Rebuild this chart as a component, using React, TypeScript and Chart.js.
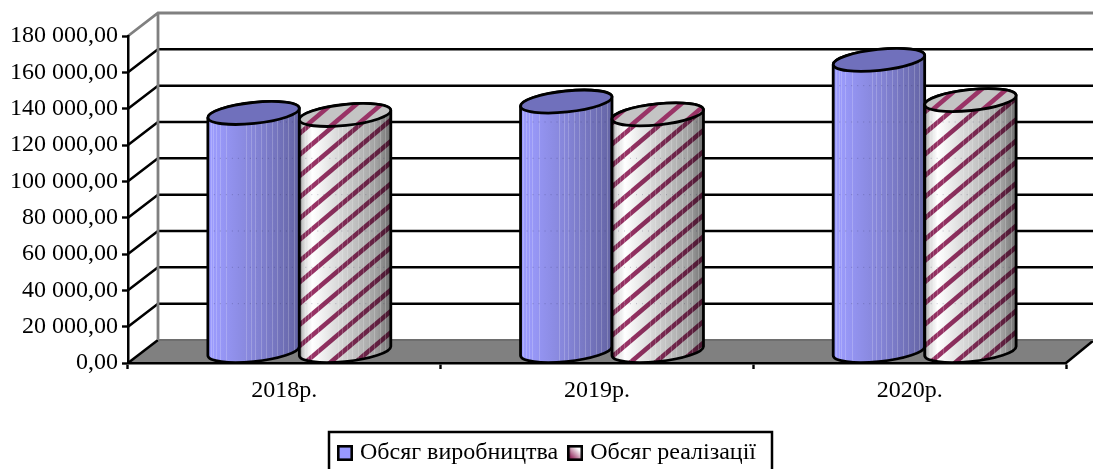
import React, { useEffect, useRef } from "react";
import { Chart, registerables } from "chart.js";

Chart.register(...registerables);

const years = ["2018р.", "2019р.", "2020р."];
const productionVolume = [131300, 137600, 160500];
const salesVolume = [130200, 130500, 138400];
const productionLabel = "Обсяг виробництва";
const salesLabel = "Обсяг реалізації";

const FONT = '"Liberation Serif", "Times New Roman", serif';
const FONT_SIZE = 24;

// Oblique offset of the 3D box: back wall relative to the front plane.
const DEPTH_X = 30;
const DEPTH_Y = -23;
const GREY = "#808080";

// Faint vertical banding on the cylinder sides, as fractions of their width.
const BANDS = [0.03, 0.06, 0.09, 0.13, 0.2, 0.42, 0.47, 0.52, 0.58, 0.64, 0.7, 0.76, 0.82, 0.88, 0.94];

const formatTick = (v: number) =>
  String(Math.round(v)).replace(/\B(?=(\d{3})+(?!\d))/g, " ") + ",00";

function cylinderGeometry(x: number, top: number, base: number, width: number) {
  const tilt = (6 * Math.PI) / 180;
  const ry = 10.5;
  const half = width / 2;
  // Radius chosen so the tilted ellipse's silhouette spans exactly the bar width.
  const rx = Math.sqrt(Math.max(half * half - (ry * Math.sin(tilt)) ** 2, 1)) / Math.cos(tilt);
  const tRight = Math.atan2(ry * Math.sin(tilt), rx * Math.cos(tilt));
  const tLeft = tRight + Math.PI;
  const cx = x + DEPTH_X / 2;
  const topY = top + DEPTH_Y / 2;
  const baseY = base + DEPTH_Y / 2;
  const pt = (t: number, cy: number) => ({
    x: cx + rx * Math.cos(t) * Math.cos(tilt) + ry * Math.sin(t) * Math.sin(tilt),
    y: cy - rx * Math.cos(t) * Math.sin(tilt) + ry * Math.sin(t) * Math.cos(tilt),
  });
  return { tilt, ry, rx, tRight, tLeft, cx, topY, baseY, half, pt };
}

function stripes(ctx: CanvasRenderingContext2D, left: number, right: number, top: number, bottom: number) {
  const period = 25;
  const rise = 0.85;
  const span = bottom - top;
  ctx.save();
  ctx.strokeStyle = "#993366";
  ctx.lineWidth = 4.6;
  const start = Math.floor((left - span / rise) / period) * period;
  for (let s = start; s < right + span / rise + period; s += period) {
    ctx.beginPath();
    ctx.moveTo(s, bottom);
    ctx.lineTo(s + span / rise, top);
    ctx.stroke();
  }
  ctx.restore();
}

function drawCylinder(
  ctx: CanvasRenderingContext2D,
  el: any,
  hatched: boolean,
  gridY: number[],
) {
  const g = cylinderGeometry(el.x, el.y, el.base, el.width);
  const left = g.cx - g.half;
  const right = g.cx + g.half;
  const phi = -g.tilt;

  const bodyPath = () => {
    ctx.beginPath();
    const tl = g.pt(g.tLeft, g.topY);
    ctx.moveTo(tl.x, tl.y);
    ctx.ellipse(g.cx, g.baseY, g.rx, g.ry, phi, g.tLeft, g.tRight, true);
    ctx.ellipse(g.cx, g.topY, g.rx, g.ry, phi, g.tRight, g.tLeft, true);
    ctx.closePath();
  };
  const capPath = () => {
    ctx.beginPath();
    ctx.ellipse(g.cx, g.topY, g.rx, g.ry, phi, 0, Math.PI * 2);
    ctx.closePath();
  };

  const yTop = g.topY - 16;
  const yBottom = g.baseY + 16;

  ctx.save();
  bodyPath();
  ctx.clip();
  if (hatched) {
    ctx.fillStyle = "#ffffff";
    ctx.fillRect(left, yTop, right - left, yBottom - yTop);
    stripes(ctx, left, right, yTop, yBottom);
    const shade = ctx.createLinearGradient(left, 0, right, 0);
    shade.addColorStop(0, "#7a7a7a");
    shade.addColorStop(0.05, "#d8d8d8");
    shade.addColorStop(0.14, "#ffffff");
    shade.addColorStop(0.55, "#c8c8c8");
    shade.addColorStop(0.85, "#a0a0a0");
    shade.addColorStop(1, "#707070");
    ctx.globalCompositeOperation = "multiply";
    ctx.fillStyle = shade;
    ctx.fillRect(left, yTop, right - left, yBottom - yTop);
    ctx.globalCompositeOperation = "source-over";
  } else {
    const shade = ctx.createLinearGradient(left, 0, right, 0);
    shade.addColorStop(0, "#9c9cff");
    shade.addColorStop(0.12, "#9898f8");
    shade.addColorStop(0.5, "#8585d8");
    shade.addColorStop(1, "#6464a4");
    ctx.fillStyle = shade;
    ctx.fillRect(left, yTop, right - left, yBottom - yTop);
  }
  // Banding on the side surface.
  ctx.strokeStyle = "rgba(255,255,255,0.2)";
  ctx.lineWidth = 1;
  BANDS.forEach((f) => {
    const bx = Math.round(left + f * (right - left)) + 0.5;
    ctx.beginPath();
    ctx.moveTo(bx, yTop);
    ctx.lineTo(bx, yBottom);
    ctx.stroke();
  });
  // Back-wall rules glimpsed through the side as a faint dotted trace.
  ctx.strokeStyle = "rgba(40,40,80,0.28)";
  ctx.setLineDash([1, 5]);
  gridY.forEach((y) => {
    ctx.beginPath();
    ctx.moveTo(left, y);
    ctx.lineTo(right, y);
    ctx.stroke();
  });
  ctx.restore();

  ctx.strokeStyle = "#000000";
  ctx.lineWidth = 2.8;
  bodyPath();
  ctx.stroke();

  ctx.save();
  capPath();
  ctx.clip();
  ctx.fillStyle = hatched ? "#c4c4c4" : "#7070bc";
  ctx.fillRect(left - 5, yTop - 10, right - left + 10, 50);
  if (hatched) stripes(ctx, left - 5, right + 5, g.topY - 16, g.topY + 16);
  ctx.restore();
  capPath();
  ctx.stroke();
}

// Legend swatch: a black-outlined square, flat blue or a maroon-to-white blend.
function makeSwatch(blend: boolean) {
  const c = document.createElement("canvas");
  c.width = 16;
  c.height = 16;
  const cx = c.getContext("2d")!;
  if (blend) {
    const grad = cx.createLinearGradient(1, 15, 15, 1);
    grad.addColorStop(0.2, "#993366");
    grad.addColorStop(0.75, "#ffffff");
    cx.fillStyle = grad;
  } else {
    cx.fillStyle = "#9999ff";
  }
  cx.fillRect(1, 1, 14, 14);
  cx.strokeStyle = "#000000";
  cx.lineWidth = 2.6;
  cx.strokeRect(1.3, 1.3, 13.4, 13.4);
  return c;
}

const box3d = {
  id: "box3d",
  afterLayout(chart: any) {
    // Legend sits in a fixed frame below the axis.
    const legend = chart.legend;
    legend.left = 328;
    legend.right = 790;
    legend.top = 427;
  },
  beforeDraw(chart: any) {
    const { ctx, scales } = chart;
    const x = scales.x;
    const y = scales.y;
    const l = x.left;
    const r = x.right;
    const y0 = y.getPixelForValue(0);
    const yMax = y.getPixelForValue(180000);
    const backR = chart.width + 1;

    ctx.save();
    ctx.fillStyle = GREY;
    ctx.beginPath();
    ctx.moveTo(l, y0);
    ctx.lineTo(l + DEPTH_X, y0 + DEPTH_Y);
    ctx.lineTo(backR, y0 + DEPTH_Y);
    ctx.lineTo(r, y0);
    ctx.closePath();
    ctx.fill();

    ctx.lineWidth = 2.5;
    ctx.strokeStyle = "#000000";
    ctx.beginPath();
    ctx.moveTo(r, y0);
    ctx.lineTo(backR, y0 + DEPTH_Y);
    ctx.stroke();

    y.ticks.forEach((t: any) => {
      if (t.value === 0 || t.value === 180000) return;
      const py = y.getPixelForValue(t.value);
      ctx.beginPath();
      ctx.moveTo(l, py);
      ctx.lineTo(l + DEPTH_X, py + DEPTH_Y);
      ctx.lineTo(backR, py + DEPTH_Y);
      ctx.stroke();
    });

    ctx.beginPath();
    ctx.moveTo(l, y0);
    ctx.lineTo(l + DEPTH_X, y0 + DEPTH_Y);
    ctx.stroke();

    ctx.strokeStyle = "#6e6e6e";
    ctx.lineWidth = 2;
    ctx.beginPath();
    ctx.moveTo(l + DEPTH_X, y0 + DEPTH_Y);
    ctx.lineTo(backR, y0 + DEPTH_Y);
    ctx.stroke();

    ctx.strokeStyle = GREY;
    ctx.lineWidth = 2.8;
    ctx.beginPath();
    ctx.moveTo(l, yMax);
    ctx.lineTo(l + DEPTH_X, yMax + DEPTH_Y);
    ctx.lineTo(backR, yMax + DEPTH_Y);
    ctx.moveTo(l + DEPTH_X, yMax + DEPTH_Y);
    ctx.lineTo(l + DEPTH_X, y0 + DEPTH_Y);
    ctx.stroke();

    // Legend frame; its lower edge runs off the canvas.
    ctx.strokeStyle = "#000000";
    ctx.lineWidth = 2.5;
    ctx.strokeRect(329, 432, 443, 60);
    ctx.restore();
  },
  afterDatasetsDraw(chart: any) {
    const { ctx, scales } = chart;
    const gridY = scales.y.ticks
      .filter((t: any) => t.value > 0 && t.value < 180000)
      .map((t: any) => scales.y.getPixelForValue(t.value) + DEPTH_Y);
    const first = chart.getDatasetMeta(0).data;
    const second = chart.getDatasetMeta(1).data;
    first.forEach((el: any, i: number) => {
      drawCylinder(ctx, el, false, gridY);
      drawCylinder(ctx, second[i], true, gridY);
    });
  },
};

export default function App() {
  const ref = useRef<HTMLCanvasElement>(null);

  useEffect(() => {
    const swatches = [makeSwatch(false), makeSwatch(true)];
    const chart = new Chart(ref.current!, {
      type: "bar",
      plugins: [box3d],
      data: {
        labels: years,
        datasets: [
          { label: productionLabel, data: productionVolume, backgroundColor: "rgba(0,0,0,0)", borderWidth: 0 },
          { label: salesLabel, data: salesVolume, backgroundColor: "rgba(0,0,0,0)", borderWidth: 0 },
        ],
      },
      options: {
        responsive: false,
        animation: false,
        layout: { padding: { top: 36, right: 27, left: 0, bottom: 0 } },
        datasets: { bar: { categoryPercentage: 0.585, barPercentage: 1 } },
        scales: {
          x: {
            type: "category",
            offset: true,
            afterFit(s: any) {
              s.height = 469 - 363 - s.chart.legend.height;
            },
            grid: {
              offset: true,
              drawOnChartArea: false,
              drawTicks: true,
              tickLength: 6,
              tickColor: "#000000",
              tickWidth: 2.4,
            },
            border: { display: true, color: "#000000", width: 2.6 },
            ticks: {
              color: "#000000",
              padding: 7,
              maxRotation: 0,
              font: { family: FONT, size: FONT_SIZE },
            },
          },
          y: {
            min: 0,
            max: 180000,
            afterFit(s: any) {
              s.width = 128;
            },
            grid: {
              drawOnChartArea: false,
              drawTicks: true,
              tickLength: 6,
              tickColor: "#000000",
              tickWidth: 2.4,
            },
            border: { display: true, color: "#000000", width: 2.5 },
            ticks: {
              stepSize: 20000,
              color: "#000000",
              padding: 4,
              font: { family: FONT, size: FONT_SIZE },
              callback: (v: any) => formatTick(Number(v)),
            },
          },
        },
        plugins: {
          title: { display: false },
          tooltip: { enabled: false },
          legend: {
            display: true,
            position: "bottom",
            align: "start",
            labels: {
              color: "#000000",
              usePointStyle: true,
              boxWidth: 6,
              boxHeight: 6,
              padding: 14,
              font: { family: FONT, size: FONT_SIZE },
              generateLabels(c: any) {
                return c.data.datasets.map((d: any, i: number) => ({
                  text: d.label,
                  datasetIndex: i,
                  pointStyle: swatches[i],
                  fillStyle: "#000000",
                  strokeStyle: "#000000",
                  lineWidth: 0,
                  fontColor: "#000000",
                  hidden: false,
                }));
              },
            },
          },
        },
      },
    } as any);
    return () => chart.destroy();
  }, []);

  return (
    <canvas
      ref={ref}
      width={1093}
      height={469}
      style={{ position: "fixed", left: 0, top: 0, display: "block" }}
    />
  );
}
